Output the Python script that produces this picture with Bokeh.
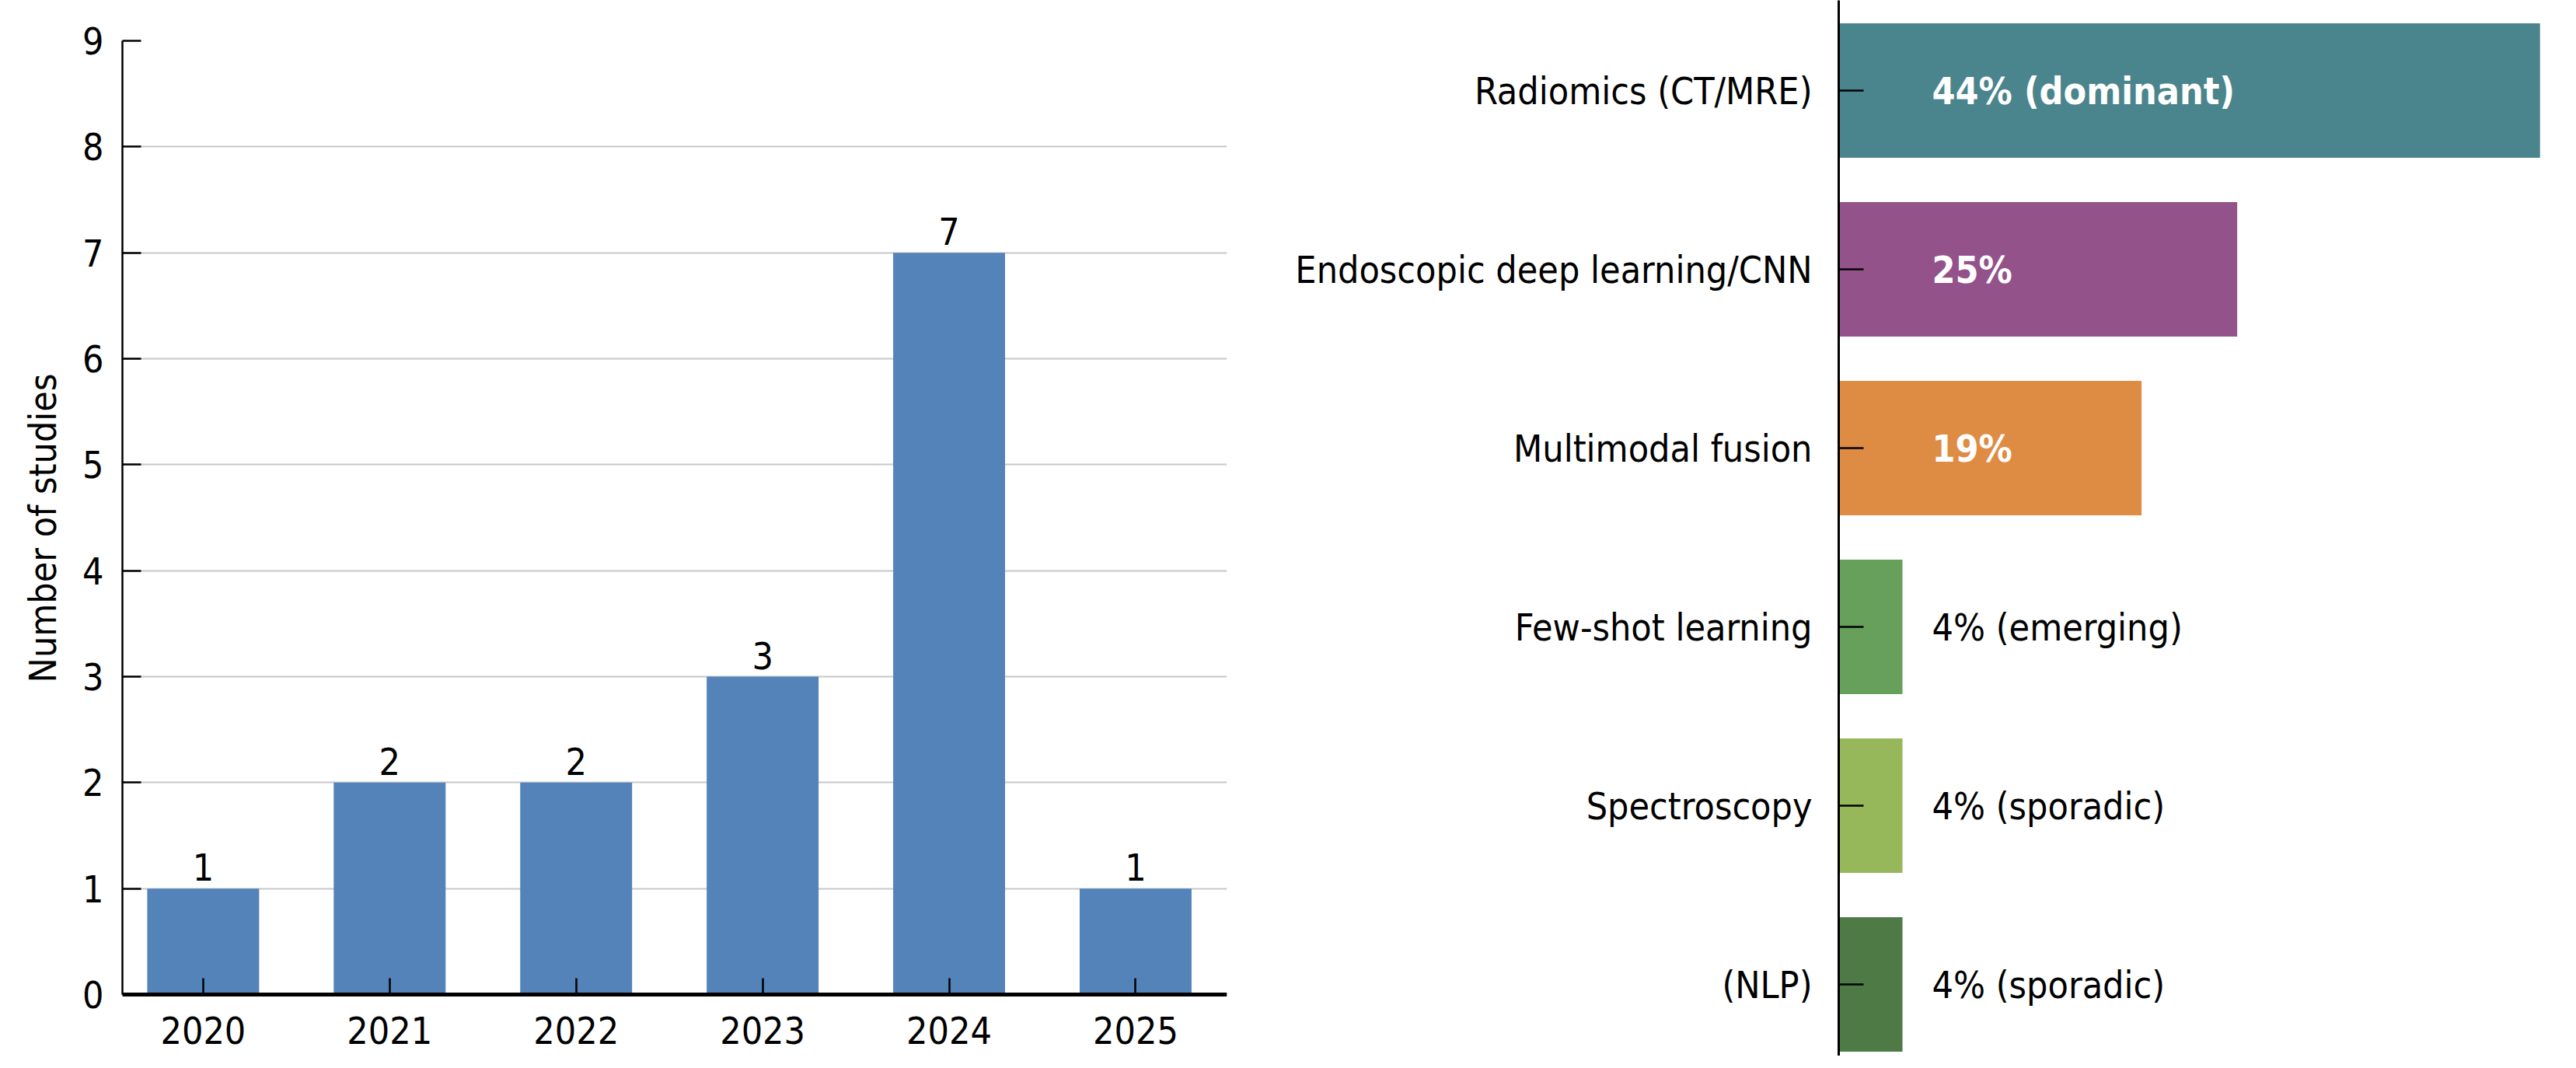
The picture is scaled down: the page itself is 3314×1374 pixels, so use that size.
from bokeh.plotting import figure
from bokeh.models import ColumnDataSource, FixedTicker, Range1d
from bokeh.layouts import row
from bokeh.embed import file_html
from bokeh.resources import INLINE
from bokeh.core.properties import value

FONT = "DejaVu Sans Condensed"

# ---- left chart data ----
years = ["2020", "2021", "2022", "2023", "2024", "2025"]
studies = [1, 2, 2, 3, 7, 1]
y_ticks = [0, 1, 2, 3, 4, 5, 6, 7, 8, 9]

# ---- right chart data ----
methods = ["Radiomics (CT/MRE)", "Endoscopic deep learning/CNN", "Multimodal fusion",
           "Few-shot learning", "Spectroscopy", "(NLP)"]
shares = [44, 25, 19, 4, 4, 4]
share_labels = ["44% (dominant)", "25%", "19%", "4% (emerging)", "4% (sporadic)", "4% (sporadic)"]
method_colors = ["#4A848C", "#93528A", "#DE8C44", "#66A05A", "#96B85A", "#4E7A45"]
label_bold = [True, True, True, False, False, False]

FS = "48px"
H = 1358

# ================= left =================
# frame spans full height; value axis 0..9 occupies 52..1279 px of the frame
px_per = 1227 / 9.0
y_lo = -(H - 1279) / px_per
y_hi = 9 + 52 / px_per

idx = list(range(len(years)))
src1 = ColumnDataSource(dict(x=idx, top=studies, lab=[str(v) for v in studies]))
p1 = figure(width=1648, height=H, output_backend="svg", toolbar_location=None,
            x_range=Range1d(-0.433, 5.49), y_range=Range1d(y_lo, y_hi),
            min_border_left=157, min_border_right=70, min_border_top=0, min_border_bottom=0)
p1.outline_line_color = None
p1.xgrid.visible = False
p1.ygrid.ticker = FixedTicker(ticks=y_ticks[1:-1])
p1.ygrid.grid_line_color = "#C8C8C8"
p1.ygrid.grid_line_width = 2
p1.vbar(x="x", top="top", bottom=0, width=0.6, source=src1, fill_color="#5383B8", line_color=None)
p1.text(x="x", y="top", text="lab", source=src1, text_align="center", text_baseline="bottom",
        y_offset=-10, text_font=value(FONT), text_font_size=FS, text_color="black")

p1.xaxis.fixed_location = 0
p1.xaxis.ticker = FixedTicker(ticks=idx)
p1.xaxis.major_label_overrides = {i: y for i, y in zip(idx, years)}
p1.xaxis.axis_line_width = 5
p1.xaxis.major_tick_in = 21
p1.xaxis.major_tick_out = 0
p1.xaxis.major_tick_line_width = 2.5
p1.xaxis.minor_tick_line_color = None
p1.xaxis.major_label_standoff = 28
p1.xaxis.major_label_text_font = FONT
p1.xaxis.major_label_text_font_size = FS
p1.xaxis.major_label_text_color = "black"

p1.yaxis.ticker = FixedTicker(ticks=y_ticks)
p1.yaxis.bounds = (0, 9)
p1.yaxis.axis_line_width = 2.5
p1.yaxis.major_tick_in = 24
p1.yaxis.major_tick_out = 0
p1.yaxis.major_tick_line_width = 2.5
p1.yaxis.minor_tick_line_color = None
p1.yaxis.major_label_standoff = 24
p1.yaxis.major_label_text_font = FONT
p1.yaxis.major_label_text_font_size = FS
p1.yaxis.major_label_text_color = "black"
p1.yaxis.axis_label = "Number of studies"
p1.yaxis.axis_label_text_font = FONT
p1.yaxis.axis_label_text_font_size = FS
p1.yaxis.axis_label_text_font_style = "normal"
p1.yaxis.axis_label_text_color = "black"
p1.yaxis.axis_label_standoff = 20

# ================= right =================
pos = list(range(len(methods)))          # 0 = top row
bold_idx = [i for i, b in enumerate(label_bold) if b]
norm_idx = [i for i, b in enumerate(label_bold) if not b]
src2 = ColumnDataSource(dict(y=pos, right=shares, color=method_colors))
srcb = ColumnDataSource(dict(y=[pos[i] for i in bold_idx], lab=[share_labels[i] for i in bold_idx],
                             x=[0 for _ in bold_idx]))
srcn = ColumnDataSource(dict(y=[pos[i] for i in norm_idx], lab=[share_labels[i] for i in norm_idx],
                             x=[0 for _ in norm_idx]))

row_px = 230.0
top_val = -116 / row_px
bot_val = top_val + H / row_px
p2 = figure(width=1650, height=H, output_backend="svg", toolbar_location=None,
            y_range=Range1d(bot_val, top_val), x_range=Range1d(0, 45.5),
            min_border_left=717, min_border_right=0, min_border_top=0, min_border_bottom=0)
p2.outline_line_color = None
p2.grid.visible = False
p2.xaxis.visible = False
p2.hbar(y="y", right="right", left=0, height=0.752, source=src2, fill_color="color", line_color=None)
p2.text(x="x", y="y", text="lab", source=srcb, x_offset=120, text_align="left", text_baseline="middle",
        text_font=value(FONT), text_font_size=FS, text_font_style="bold", text_color="white")
p2.text(x="x", y="y", text="lab", source=srcn, x_offset=120, text_align="left", text_baseline="middle",
        text_font=value(FONT), text_font_size=FS, text_color="black")
p2.yaxis.ticker = FixedTicker(ticks=pos)
p2.yaxis.major_label_overrides = {i: m for i, m in zip(pos, methods)}
p2.yaxis.minor_tick_line_color = None
p2.yaxis.axis_line_width = 3
p2.yaxis.major_tick_in = 32
p2.yaxis.major_tick_out = 0
p2.yaxis.major_tick_line_width = 2.5
p2.yaxis.major_label_standoff = 34
p2.yaxis.major_label_text_font = FONT
p2.yaxis.major_label_text_font_size = FS
p2.yaxis.major_label_text_color = "black"

layout = row(p1, p2, spacing=0)
open("out.html", "w").write(file_html(layout, INLINE))
